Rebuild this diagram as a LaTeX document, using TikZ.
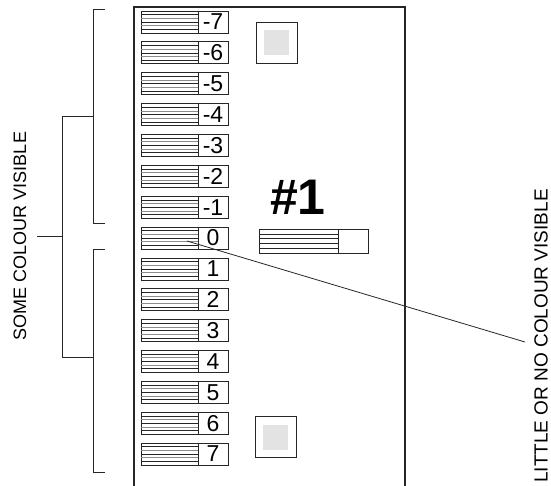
\documentclass[tikz,border=0pt]{standalone}
\usepackage{fontspec}
\setmainfont{Liberation Sans}
\usetikzlibrary{calc}
\begin{document}
\begin{tikzpicture}[x=1pt,y=-1pt,
  frame/.style={draw=black!85,line width=1.1pt},
  edge/.style={draw=black!85,line width=0.8pt},
  hatchbox/.style={draw=black!85,line width=0.7pt,minimum width=57pt,minimum height=22pt,inner sep=0pt,outer sep=0pt},
  numbox/.style={draw=black!85,line width=0.7pt,minimum width=30pt,minimum height=22pt,inner sep=0pt,outer sep=0pt,font=\fontsize{23}{23}\selectfont},
  hline/.style={line width=0.6pt},
  padbox/.style={draw=black!85,line width=0.9pt,minimum size=41pt,inner sep=0pt},
  padfill/.style={fill=black!11,minimum size=25pt,inner sep=0pt},
  sidelabel/.style={rotate=90,inner sep=0pt}]
\useasboundingbox (0,0) rectangle (551,485);

% sheet outline
\draw[frame] (134,490) |- (405,7) -- (405,490);

% graded strips -7 ... 7
\foreach \lab [count=\i] in {-7,...,7}{
  \pgfmathsetmacro\cy{238+30.86*\lab}
  \node[hatchbox] (s\i) at (169.5,\cy) {};
  \node[numbox] (n\i) at (213,\cy) {\lab};
  \foreach \j/\c in {1/black!85,2/black!45,3/black!85,4/black!45,5/black!85}{
    \draw[hline,draw=\c] ($(s\i.north west)+(0,\j*22/6)$) -- ($(s\i.north east)+(0,\j*22/6)$);
  }
}

% reference strip
\node[draw=black!85,line width=0.7pt,minimum width=79pt,minimum height=24pt,inner sep=0pt,outer sep=0pt] (rs) at (298.5,241) {};
\node[draw=black!85,line width=0.7pt,minimum width=30pt,minimum height=24pt,inner sep=0pt,outer sep=0pt] (rn) at (353,241) {};
\foreach \j in {1,...,4}{
  \draw[hline,draw=black!85] ($(rs.north west)+(0,\j*24/5)$) -- ($(rs.north east)+(0,\j*24/5)$);
}
\node[font=\fontsize{50}{50}\selectfont\bfseries] (title) at (298,197) {\#1};

% grey pads
\node[padbox] (pad1) at (276.5,42.5) {};
\node[padfill] at (pad1.center) {};
\node[padbox] (pad2) at (275.5,437) {};
\node[padfill] at (pad2.center) {};

% brackets on the left
\coordinate (ua) at (105,9);   \coordinate (ub) at (105,223);
\coordinate (la) at (105,249); \coordinate (lb) at (105,472);
\coordinate (um) at (93,116);  \coordinate (lm) at (93,357);
\coordinate (tk) at (62,236);  \coordinate (tkend) at (37,236);
\draw[edge] (ua) -| (93,223) -- (ub);
\draw[edge] (la) -| (93,472) -- (lb);
\draw[edge] (um) -| (62,357) -- (lm);
\draw[edge] (tk) -- (tkend);
\node[sidelabel,font=\fontsize{18}{18}\selectfont] (some) at (20,236) {SOME COLOUR VISIBLE};

% pointer to the 0 strip
\coordinate (p0) at (187,241);
\coordinate (pend) at (525,342);
\draw[edge] (p0) -- (pend);
\node[sidelabel,font=\fontsize{19}{19}\selectfont] (little) at (541,336) {LITTLE OR NO COLOUR VISIBLE};
\end{tikzpicture}
\end{document}
